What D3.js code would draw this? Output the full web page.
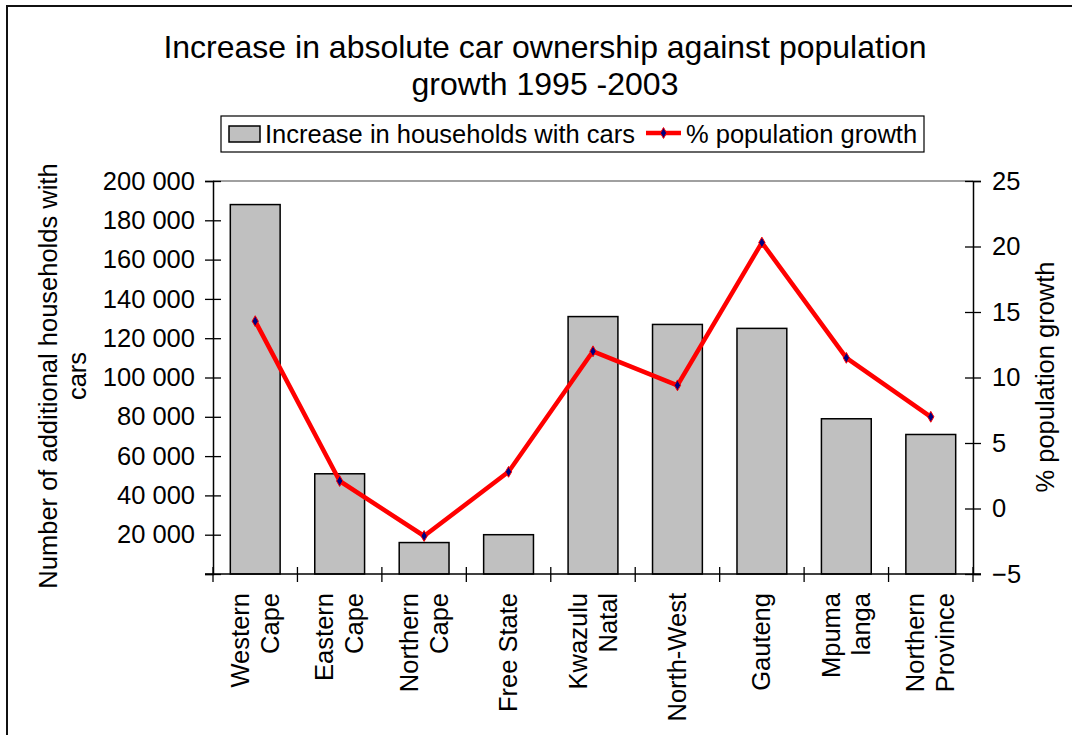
<!DOCTYPE html>
<html>
<head>
<meta charset="utf-8">
<script src="https://cdn.jsdelivr.net/npm/d3@7"></script>
<style>
  html, body { margin: 0; padding: 0; background: #fff; }
  svg { display: block; }
  text { font-family: Arial, "Liberation Sans", sans-serif; fill: #000; }
</style>
</head>
<body>
<svg id="chart" width="1072" height="735"></svg>
<script>
// Provinces, each label split into the lines it is printed on
const provinces = [
  ["Western", "Cape"],
  ["Eastern", "Cape"],
  ["Northern", "Cape"],
  ["Free State"],
  ["Kwazulu", "Natal"],
  ["North-West"],
  ["Gauteng"],
  ["Mpuma", "langa"],
  ["Northern", "Province"]
];
// Increase in households with cars, 1995-2003
const householdIncrease = [188000, 51000, 16000, 20000, 131000, 127000, 125000, 79000, 71000];
// Population growth over the same period, %
const populationGrowth = [14.3, 2.1, -2.1, 2.8, 12.0, 9.4, 20.3, 11.5, 7.0];

const leftTicks = [0, 20000, 40000, 60000, 80000, 100000, 120000, 140000, 160000, 180000, 200000];
const rightTicks = [-5, 0, 5, 10, 15, 20, 25];

const titleLines = ["Increase in absolute car ownership against population", "growth 1995 -2003"];
const seriesNames = ["Increase in households with cars", "% population growth"];
const leftTitle = ["Number of additional households with", "cars"];
const rightTitle = "% population growth";

const svg = d3.select("#chart");
const FONT = 25.5;
const FAMILY = "Arial, 'Liberation Sans', sans-serif";

const plot = { left: 213, right: 973, top: 181, bottom: 574 };

// Outer frame
svg.append("rect")
  .attr("x", 7).attr("y", 6)
  .attr("width", 1072).attr("height", 740)
  .attr("fill", "none").attr("stroke", "#111").attr("stroke-width", 2);

// Title
svg.append("g").selectAll("text").data(titleLines).join("text")
  .attr("x", 545)
  .attr("y", (d, i) => 58 + i * 37)
  .attr("text-anchor", "middle")
  .attr("font-size", 32)
  .text(d => d);

const x = d3.scaleBand()
  .domain(d3.range(provinces.length))
  .range([plot.left, plot.right])
  .paddingInner(0.41)
  .paddingOuter(0.205);

const yL = d3.scaleLinear().domain([0, 200000]).range([plot.bottom, plot.top]);
const yR = d3.scaleLinear().domain([-5, 25]).range([plot.bottom, plot.top]);

const fmt = v => v === 0 ? "" : d3.format(",")(v).replace(/,/g, " ");

// Top border of the plot area
svg.append("line")
  .attr("x1", plot.left).attr("x2", plot.right)
  .attr("y1", plot.top).attr("y2", plot.top)
  .attr("stroke", "#808080").attr("stroke-width", 1.5);

// Bars
svg.append("g").selectAll("rect").data(householdIncrease).join("rect")
  .attr("x", (d, i) => x(i))
  .attr("width", x.bandwidth())
  .attr("y", d => yL(d))
  .attr("height", d => yL(0) - yL(d))
  .attr("fill", "#c0c0c0")
  .attr("stroke", "#000")
  .attr("stroke-width", 1.5);

// Left axis
const gL = svg.append("g").attr("transform", `translate(${plot.left},0)`)
  .call(d3.axisLeft(yL).tickValues(leftTicks).tickFormat(fmt).tickSize(8).tickPadding(10));
gL.selectAll(".tick line").attr("x2", -8).attr("x1", 8).attr("stroke", "#000").attr("stroke-width", 1.3);
gL.select(".domain").attr("stroke", "#000").attr("stroke-width", 1.5);
gL.selectAll(".tick text").attr("font-size", FONT).attr("font-family", FAMILY).attr("x", -18);

// Right axis
const gR = svg.append("g").attr("transform", `translate(${plot.right},0)`)
  .call(d3.axisRight(yR).tickValues(rightTicks).tickSize(8).tickPadding(10));
gR.selectAll(".tick line").attr("x1", -8).attr("x2", 8).attr("stroke", "#000").attr("stroke-width", 1.3);
gR.select(".domain").attr("stroke", "#000").attr("stroke-width", 1.5);
gR.selectAll(".tick text").attr("font-size", FONT).attr("font-family", FAMILY).attr("x", 19);

// Category axis
const boundaries = d3.range(provinces.length + 1).map(i => plot.left + i * x.step());
svg.append("line")
  .attr("x1", plot.left - 8).attr("x2", plot.right + 8)
  .attr("y1", plot.bottom).attr("y2", plot.bottom)
  .attr("stroke", "#000").attr("stroke-width", 1.5);
svg.append("g").selectAll("line").data(boundaries).join("line")
  .attr("x1", d => d).attr("x2", d => d)
  .attr("y1", plot.bottom - 7).attr("y2", plot.bottom + 8)
  .attr("stroke", "#000").attr("stroke-width", 1.3);

// Category labels, rotated
const catG = svg.append("g").selectAll("g").data(provinces).join("g")
  .attr("transform", (d, i) => `translate(${x(i) + x.bandwidth() / 2},${plot.bottom + 19}) rotate(-90)`);
catG.each(function (lines) {
  const n = lines.length;
  d3.select(this).selectAll("text").data(lines).join("text")
    .attr("x", 0)
    .attr("y", (d, j) => (j - (n - 1) / 2) * 30 + 8.5)
    .attr("text-anchor", "end")
    .attr("font-size", FONT)
    .text(d => d);
});

// Population growth line
const line = d3.line()
  .x((d, i) => x(i) + x.bandwidth() / 2)
  .y(d => yR(d));
svg.append("path")
  .datum(populationGrowth)
  .attr("d", line)
  .attr("fill", "none")
  .attr("stroke", "#ff0000")
  .attr("stroke-width", 4.5)
  .attr("stroke-linejoin", "round");

const diamond = d3.symbol().type(d3.symbolDiamond).size(34);
svg.append("g").selectAll("path").data(populationGrowth).join("path")
  .attr("transform", (d, i) => `translate(${x(i) + x.bandwidth() / 2},${yR(d)})`)
  .attr("d", diamond)
  .attr("fill", "#000080")
  .attr("stroke", "#ff0000")
  .attr("stroke-width", 1);

// Axis titles
svg.append("g").attr("transform", "translate(57,376) rotate(-90)")
  .selectAll("text").data(leftTitle).join("text")
  .attr("x", 0).attr("y", (d, i) => i * 29)
  .attr("text-anchor", "middle")
  .attr("font-size", FONT)
  .text(d => d);

svg.append("text")
  .attr("transform", "translate(1054,377) rotate(-90)")
  .attr("text-anchor", "middle")
  .attr("font-size", FONT)
  .text(rightTitle);

// Legend
const legend = svg.append("g");
legend.append("rect")
  .attr("x", 221).attr("y", 116).attr("width", 703).attr("height", 36)
  .attr("fill", "#fff").attr("stroke", "#000").attr("stroke-width", 1.2);
legend.append("rect")
  .attr("x", 229).attr("y", 126).attr("width", 31).attr("height", 16)
  .attr("fill", "#c0c0c0").attr("stroke", "#000").attr("stroke-width", 1.5);
legend.append("text")
  .attr("x", 265).attr("y", 143)
  .attr("font-size", FONT)
  .text(seriesNames[0]);
legend.append("line")
  .attr("x1", 646).attr("x2", 681).attr("y1", 133).attr("y2", 133)
  .attr("stroke", "#ff0000").attr("stroke-width", 4.5);
legend.append("path")
  .attr("transform", "translate(663.5,133)")
  .attr("d", diamond)
  .attr("fill", "#000080").attr("stroke", "#ff0000").attr("stroke-width", 1);
legend.append("text")
  .attr("x", 686).attr("y", 143)
  .attr("font-size", FONT)
  .text(seriesNames[1]);
</script>
</body>
</html>
